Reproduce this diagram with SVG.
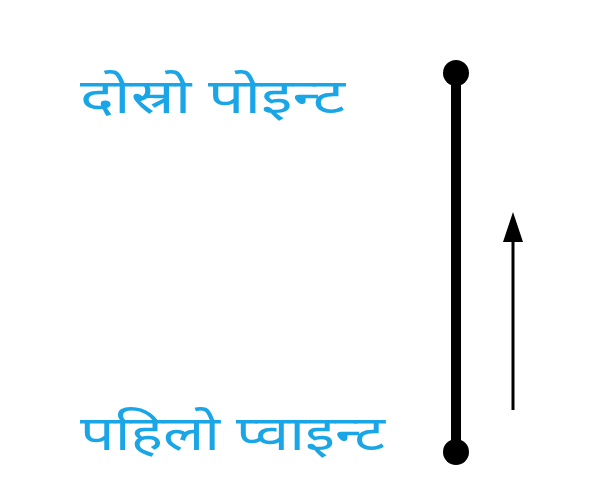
<svg xmlns="http://www.w3.org/2000/svg" width="600" height="500" viewBox="0 0 600 500">
<style>
.lbl{font-family:"Noto Sans","Noto Sans Devanagari","DejaVu Sans",sans-serif;font-size:48px;fill:#1aa6e6}
</style>
<rect width="600" height="500" fill="#fff"/>
<g id="connectors">
<line x1="456" y1="73" x2="456" y2="452" stroke="#000" stroke-width="10"/>
<line x1="513" y1="410" x2="513" y2="242" stroke="#000" stroke-width="3"/>
<path d="M503,242 L513,212 L523,242 Z" fill="#000"/>
</g>
<g id="p2"><circle cx="456" cy="73" r="13" fill="#000"/><text class="lbl" x="80" y="113" textLength="265" lengthAdjust="spacingAndGlyphs">दोस्रो पोइन्ट</text></g>
<g id="p1"><circle cx="456" cy="452" r="13" fill="#000"/><text class="lbl" x="80" y="450" textLength="305" lengthAdjust="spacingAndGlyphs">पहिलो प्वाइन्ट</text></g>
</svg>
